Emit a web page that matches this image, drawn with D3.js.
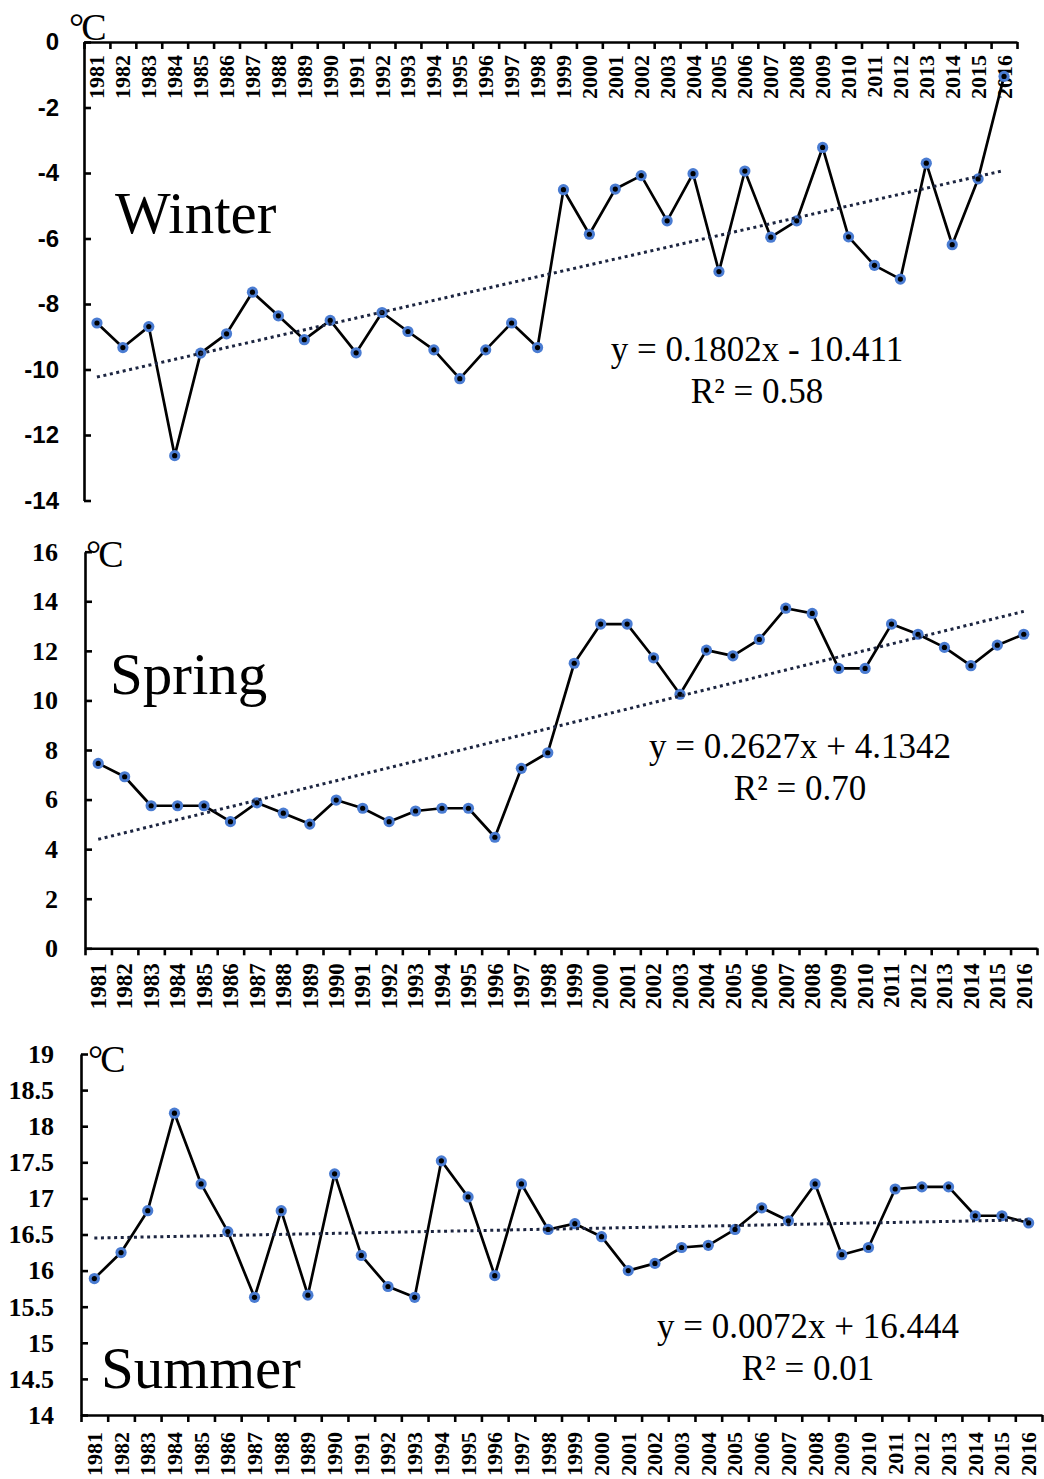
<!DOCTYPE html>
<html lang="en">
<head>
<meta charset="utf-8">
<title>Seasonal mean temperature 1981-2016</title>
<script src="https://cdn.jsdelivr.net/npm/d3@7"></script>
<style>
  body { margin: 0; background: #fff; }
  text { fill: #000; }
</style>
</head>
<body>
<script>
var years = ["1981", "1982", "1983", "1984", "1985", "1986", "1987", "1988", "1989", "1990",
             "1991", "1992", "1993", "1994", "1995", "1996", "1997", "1998", "1999", "2000",
             "2001", "2002", "2003", "2004", "2005", "2006", "2007", "2008", "2009", "2010",
             "2011", "2012", "2013", "2014", "2015", "2016"];

var winterTemps = [-8.58, -9.33, -8.69, -12.63, -9.50, -8.91, -7.64, -8.36, -9.09, -8.50,
                   -9.49, -8.26, -8.84, -9.40, -10.28, -9.40, -8.58, -9.33, -4.51, -5.87,
                   -4.49, -4.08, -5.46, -4.02, -7.01, -3.94, -5.96, -5.46, -3.22, -5.95,
                   -6.82, -7.24, -3.70, -6.19, -4.18, -1.05];
var springTemps = [7.46, 6.92, 5.75, 5.75, 5.75, 5.11, 5.87, 5.45, 5.01, 5.98,
                   5.65, 5.11, 5.54, 5.65, 5.65, 4.48, 7.26, 7.89, 11.50, 13.08,
                   13.08, 11.72, 10.25, 12.03, 11.80, 12.46, 13.72, 13.51, 11.29, 11.29,
                   13.08, 12.67, 12.14, 11.40, 12.23, 12.67];
var summerTemps = [15.89, 16.25, 16.83, 18.18, 17.20, 16.54, 15.63, 16.83, 15.66, 17.34,
                   16.21, 15.78, 15.63, 17.52, 17.02, 15.93, 17.20, 16.57, 16.65, 16.47,
                   16.00, 16.10, 16.32, 16.35, 16.57, 16.87, 16.69, 17.20, 16.22, 16.32,
                   17.13, 17.16, 17.16, 16.76, 16.76, 16.66];

var winterTicks = [0, -2, -4, -6, -8, -10, -12, -14];
var springTicks = [0, 2, 4, 6, 8, 10, 12, 14, 16];
var summerTicks = [14, 14.5, 15, 15.5, 16, 16.5, 17, 17.5, 18, 18.5, 19];

// fitted trend lines, x = 1..36
var winterTrend = [0.1802, -10.411];
var springTrend = [0.2627, 4.1342];
var summerTrend = [0.0072, 16.444];

var winterEq = ["y = 0.1802x - 10.411", "R\u00b2 = 0.58"];
var springEq = ["y = 0.2627x + 4.1342", "R\u00b2 = 0.70"];
var summerEq = ["y = 0.0072x + 16.444", "R\u00b2 = 0.01"];

var w = 1044;
var h = 1479;
var serif = "'Liberation Serif', 'Times New Roman', serif";
var sans = "'Liberation Sans', Arial, sans-serif";

var svg = d3.select("body")
            .append("svg")
            .attr("width", w)
            .attr("height", h);

svg.append("rect").attr("width", w).attr("height", h).attr("fill", "#fff");

function drawPanel(p) {
  var g = svg.append("g");

  var x = d3.scaleBand()
            .domain(years)
            .range([p.x0, p.x1]);
  var edge = d3.scaleLinear()
            .domain([0, years.length])
            .range([p.x0, p.x1]);
  var y = d3.scaleLinear()
            .domain(d3.extent(p.ticks))
            .range([p.yBottom, p.yTop]);
  var cx = function(i) { return x(years[i]) + x.bandwidth() / 2; };

  // y axis, ticks point inward
  var yAxis = g.append("g")
            .attr("transform", "translate(" + p.x0 + ",0)")
            .call(d3.axisLeft(y)
                    .tickValues(p.ticks)
                    .tickFormat(function(d) { return String(d); })
                    .tickSizeInner(-7)
                    .tickSizeOuter(0)
                    .tickPadding(p.labelPad));
  yAxis.selectAll("text")
       .attr("font-family", p.yFont)
       .attr("font-weight", "bold")
       .attr("font-size", p.ySize + "px")
       .attr("fill", "#000");

  // x axis with ticks between categories
  var axisY = y(p.axisValue);
  g.append("g")
   .attr("transform", "translate(0," + axisY + ")")
   .call(d3.axisBottom(edge)
           .tickValues(d3.range(years.length + 1))
           .tickSizeInner(7)
           .tickSizeOuter(0)
           .tickFormat(""));

  g.selectAll("path.domain, .tick line")
   .attr("stroke", "#000")
   .attr("stroke-width", 2.6);

  g.selectAll("text.year")
   .data(years)
   .enter()
   .append("text")
   .attr("class", "year")
   .attr("transform", function(d) {
     return "translate(" + (x(d) + x.bandwidth() / 2) + "," + (axisY + p.yearGap) + ") rotate(-90)";
   })
   .attr("dy", "0.34em")
   .attr("text-anchor", "end")
   .attr("font-family", serif)
   .attr("font-weight", "bold")
   .attr("font-size", p.yearSize + "px")
   .text(function(d) { return d; });

  // data line
  var line = d3.line()
               .x(function(d, i) { return cx(i); })
               .y(function(d) { return y(d); });
  g.append("path")
   .datum(p.values)
   .attr("d", line)
   .attr("fill", "none")
   .attr("stroke", "#000")
   .attr("stroke-width", 2.7)
   .attr("stroke-linejoin", "round");

  // markers
  g.selectAll("circle.outer")
   .data(p.values)
   .enter()
   .append("circle")
   .attr("class", "outer")
   .attr("cx", function(d, i) { return cx(i); })
   .attr("cy", function(d) { return y(d); })
   .attr("r", 5.6)
   .attr("fill", "#4a7cd2");
  g.selectAll("circle.inner")
   .data(p.values)
   .enter()
   .append("circle")
   .attr("class", "inner")
   .attr("cx", function(d, i) { return cx(i); })
   .attr("cy", function(d) { return y(d); })
   .attr("r", 2.6)
   .attr("fill", "#000");

  // trend line
  var trendPts = [0, years.length - 1];
  g.append("path")
   .datum(trendPts)
   .attr("d", d3.line()
                .x(function(i) { return cx(i); })
                .y(function(i) { return y(p.trend[0] * (i + 1) + p.trend[1]); }))
   .attr("fill", "none")
   .attr("stroke", "#1c2540")
   .attr("stroke-width", 3)
   .attr("stroke-dasharray", "3,3.6");

  // unit
  g.append("text")
   .attr("x", p.unitX)
   .attr("y", p.unitY)
   .attr("font-family", serif)
   .attr("font-size", "38px")
   .attr("letter-spacing", "-3px")
   .text("\u00b0C");

  // season name
  g.append("text")
   .attr("x", p.titleX)
   .attr("y", p.titleY)
   .attr("font-family", serif)
   .attr("font-size", "59px")
   .text(p.title);

  // equation
  g.selectAll("text.eq")
   .data(p.eq)
   .enter()
   .append("text")
   .attr("class", "eq")
   .attr("x", p.eqX)
   .attr("y", function(d, i) { return p.eqY + i * 42; })
   .attr("text-anchor", "middle")
   .attr("font-family", serif)
   .attr("font-size", "35px")
   .text(function(d) { return d; });
}

drawPanel({
  values: winterTemps, ticks: winterTicks, trend: winterTrend, eq: winterEq, title: "Winter",
  x0: 84, x1: 1017, yTop: 42, yBottom: 500.5, axisValue: 0,
  yFont: sans, ySize: 24, labelPad: 25, yearGap: 13, yearSize: 22,
  unitX: 69, unitY: 40, titleX: 115, titleY: 233, eqX: 757, eqY: 361
});

drawPanel({
  values: springTemps, ticks: springTicks, trend: springTrend, eq: springEq, title: "Spring",
  x0: 85, x1: 1037, yTop: 551.7, yBottom: 948.3, axisValue: 0,
  yFont: serif, ySize: 26, labelPad: 27, yearGap: 15, yearSize: 23,
  unitX: 86, unitY: 567, titleX: 110, titleY: 694, eqX: 800, eqY: 758
});

drawPanel({
  values: summerTemps, ticks: summerTicks, trend: summerTrend, eq: summerEq, title: "Summer",
  x0: 81, x1: 1042, yTop: 1054, yBottom: 1415, axisValue: 14,
  yFont: serif, ySize: 26, labelPad: 27, yearGap: 17, yearSize: 22,
  unitX: 88, unitY: 1072, titleX: 101, titleY: 1388, eqX: 808, eqY: 1338
});
</script>
</body>
</html>
